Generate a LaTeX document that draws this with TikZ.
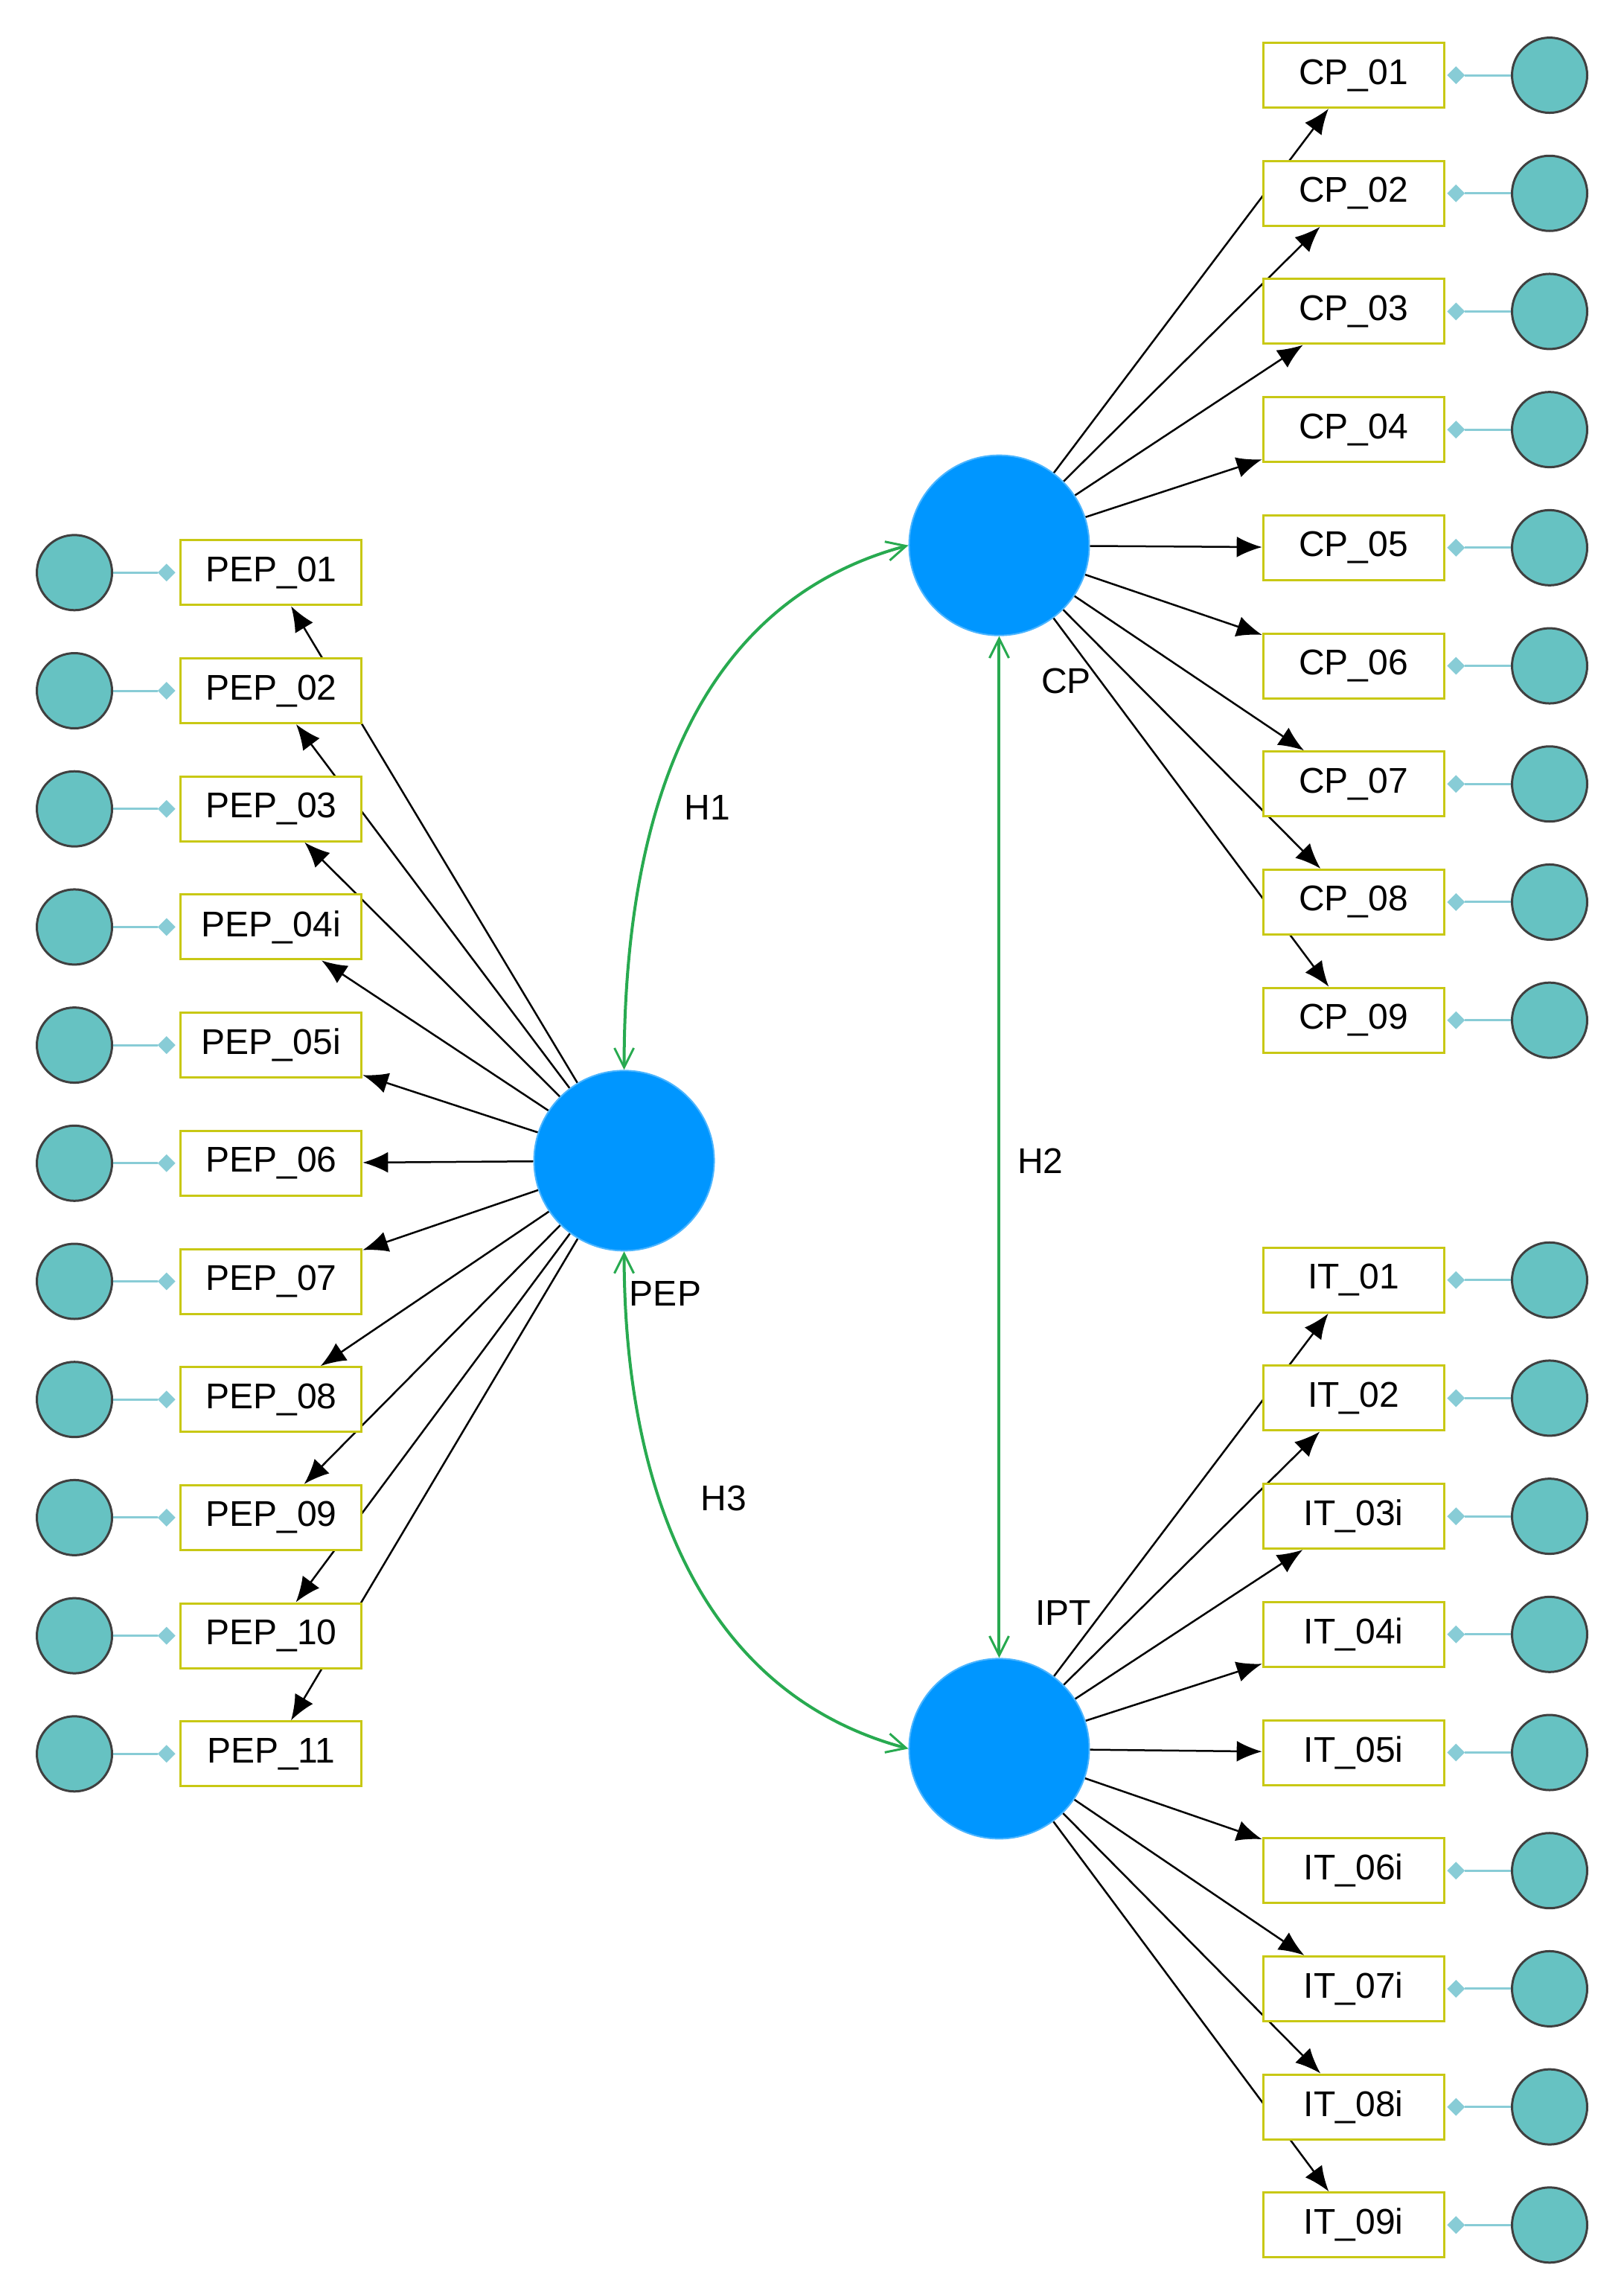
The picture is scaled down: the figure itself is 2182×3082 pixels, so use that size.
\documentclass[tikz,border=0pt]{standalone}
\usepackage{fontspec}
\setmainfont{Liberation Sans}
\usetikzlibrary{arrows.meta,backgrounds,shapes.geometric}
\definecolor{lat}{RGB}{0,150,255}
\definecolor{err}{RGB}{102,194,194}
\definecolor{boxc}{RGB}{200,200,20}
\definecolor{dia}{RGB}{136,204,214}
\definecolor{hg}{RGB}{40,170,80}
\begin{document}
\begin{tikzpicture}[x=0.99pt,y=-0.99pt,
  font=\fontsize{48}{58}\selectfont,
  latent/.style={circle,fill=lat,draw=lat!70!white,line width=2pt,minimum size=242pt,inner sep=0pt},
  ind/.style={rectangle,draw=boxc,line width=3pt,fill=white,minimum width=243pt,minimum height=87pt,inner sep=0pt},
  errc/.style={circle,fill=err,draw=black!75,line width=3pt,minimum size=101pt,inner sep=0pt},
  dm/.style={diamond,fill=dia,inner sep=0pt,minimum size=24pt},
  load/.style={line width=2.5pt,-{Latex[length=34pt,width=28pt]}},
  elink/.style={draw=dia,line width=3pt},
  hyp/.style={draw=hg,line width=4pt,{Straight Barb[length=26pt,width=26pt,line width=3pt]}-{Straight Barb[length=26pt,width=26pt,line width=3pt]}},
  lbl/.style={inner sep=0pt}]
\useasboundingbox (0pt,0pt) rectangle (2182pt,-3082pt);
\begin{scope}[xshift=2pt,yshift=-7pt]
\node[latent] (pep) at (845,1568) {};
\node[latent] (cp) at (1354,733) {};
\node[latent] (ipt) at (1354,2366) {};
\node[lbl] at (901,1748) {PEP};
\node[lbl] at (1445,917) {CP};
\node[lbl] at (1441,2182) {IPT};
\foreach \i/\t in {1/PEP\_01,2/PEP\_02,3/PEP\_03,4/PEP\_04i,5/PEP\_05i,6/PEP\_06,7/PEP\_07,8/PEP\_08,9/PEP\_09,10/PEP\_10,11/PEP\_11}{
  \pgfmathsetmacro{\yy}{770+(\i-1)*160.3}
  \node[ind] (p\i) at (366,\yy) {\t};
  \node[errc] (pe\i) at (99,\yy) {};
  \node[dm] (pd\i) at (224,\yy) {};
  \begin{scope}[on background layer]
    \draw[elink] (pe\i) -- (pd\i);
    \draw[load] (pep) -- (p\i);
  \end{scope}
}
\foreach \i/\t in {1/CP\_01,2/CP\_02,3/CP\_03,4/CP\_04,5/CP\_05,6/CP\_06,7/CP\_07,8/CP\_08,9/CP\_09}{
  \pgfmathsetmacro{\yy}{95+(\i-1)*160.3}
  \node[ind] (c\i) at (1835,\yy) {\t};
  \node[errc] (ce\i) at (2101,\yy) {};
  \node[dm] (cd\i) at (1974,\yy) {};
  \begin{scope}[on background layer]
    \draw[elink] (ce\i) -- (cd\i);
    \draw[load] (cp) -- (c\i);
  \end{scope}
}
\foreach \i/\t in {1/IT\_01,2/IT\_02,3/IT\_03i,4/IT\_04i,5/IT\_05i,6/IT\_06i,7/IT\_07i,8/IT\_08i,9/IT\_09i}{
  \pgfmathsetmacro{\yy}{1730+(\i-1)*160.3}
  \node[ind] (t\i) at (1835,\yy) {\t};
  \node[errc] (te\i) at (2101,\yy) {};
  \node[dm] (td\i) at (1974,\yy) {};
  \begin{scope}[on background layer]
    \draw[elink] (te\i) -- (td\i);
    \draw[load] (ipt) -- (t\i);
  \end{scope}
}
\draw[hyp] (pep.north) to[out=90,in=195] (cp.west);
\draw[hyp] (pep.south) to[out=-90,in=165] (ipt.west);
\draw[hyp] (cp.south) -- (ipt.north);
\node[lbl] at (958,1089) {H1};
\node[lbl] at (1410,1568) {H2};
\node[lbl] at (980,2026) {H3};
\end{scope}
\end{tikzpicture}
\end{document}
